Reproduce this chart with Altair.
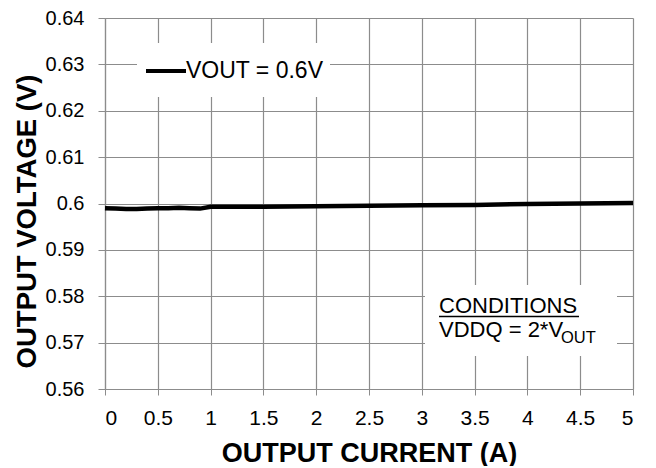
import altair as alt
import pandas as pd

# Data
current_a = [0, 0.1, 0.2, 0.3, 0.4, 0.5, 0.6, 0.7, 0.8, 0.9, 1.0, 1.25, 1.5, 2.0, 2.5, 3.0, 3.5, 4.0, 4.5, 5.0]
vout_v = [0.5990, 0.5989, 0.5988, 0.5988, 0.5989, 0.5990, 0.5990, 0.5991, 0.5990, 0.5989,
          0.5993, 0.5993, 0.5993, 0.5994, 0.5995, 0.5996, 0.5997, 0.5999, 0.6000, 0.6001]
x_ticks = [0, 0.5, 1, 1.5, 2, 2.5, 3, 3.5, 4, 4.5, 5]
y_ticks = [0.56, 0.57, 0.58, 0.59, 0.60, 0.61, 0.62, 0.63, 0.64]
legend_label = "VOUT = 0.6V"
cond_title = "CONDITIONS"
cond_line = "VDDQ = 2*V"
cond_sub = "OUT"

FONT = "Liberation Sans"
GRID = "#8c8c8c"
W, H = 528, 371

df = pd.DataFrame({"x": current_a, "v": vout_v})
one = pd.DataFrame({"a": [0]})

xenc = alt.X("x:Q", scale=alt.Scale(domain=[0, 5], nice=False),
             axis=alt.Axis(values=x_ticks, format=".1~f", title="OUTPUT CURRENT (A)",
                           grid=True, gridColor=GRID, gridWidth=1.2,
                           domainColor=GRID, domainWidth=1.2, tickColor=GRID, tickSize=6,
                           labelFont=FONT, labelFontSize=21, labelColor="black", labelPadding=12,
                           titleFont=FONT, titleFontSize=27, titleFontWeight="bold",
                           titleColor="black", titleBaseline="alphabetic", titleY=72))
yenc = alt.Y("v:Q", scale=alt.Scale(domain=[0.56, 0.64], nice=False, zero=False),
             axis=alt.Axis(values=y_ticks, format=".2~f", title="OUTPUT VOLTAGE (V)",
                           grid=True, gridColor=GRID, gridWidth=1.2,
                           domainColor=GRID, domainWidth=1.2, tickColor=GRID, tickSize=7,
                           labelFont=FONT, labelFontSize=20, labelColor="black", labelPadding=14,
                           titleFont=FONT, titleFontSize=27.5, titleFontWeight="bold",
                           titleColor="black", titleAngle=270, titleBaseline="alphabetic",
                           titleAlign="center", titleX=-70, titleY=203))

line = alt.Chart(df).mark_line(color="black", strokeWidth=4.5).encode(x=xenc, y=yenc)

leg_box = alt.Chart(one).mark_rect(fill="white").encode(
    x=alt.value(32), x2=alt.value(225), y=alt.value(25), y2=alt.value(79))
leg_line = alt.Chart(one).mark_rule(color="black", strokeWidth=4).encode(
    x=alt.value(41), x2=alt.value(81), y=alt.value(53))
leg_text = alt.Chart(one).mark_text(font=FONT, fontSize=23, align="left", baseline="alphabetic",
                                    color="black").encode(
    x=alt.value(81), y=alt.value(60), text=alt.value(legend_label))

cond_box = alt.Chart(one).mark_rect(fill="white").encode(
    x=alt.value(320), x2=alt.value(512), y=alt.value(267), y2=alt.value(338))
cond_t1 = alt.Chart(one).mark_text(font=FONT, fontSize=22, align="left", baseline="alphabetic",
                                   color="black").encode(
    x=alt.value(334), y=alt.value(295), text=alt.value(cond_title))
cond_ul = alt.Chart(one).mark_rule(color="black", strokeWidth=1.5).encode(
    x=alt.value(334), x2=alt.value(474), y=alt.value(298.5))
cond_t2 = alt.Chart(one).mark_text(font=FONT, fontSize=22, align="left", baseline="alphabetic",
                                   color="black").encode(
    x=alt.value(334), y=alt.value(319), text=alt.value(cond_line))
cond_t3 = alt.Chart(one).mark_text(font=FONT, fontSize=16.5, align="left", baseline="alphabetic",
                                   color="black").encode(
    x=alt.value(456), y=alt.value(325), text=alt.value(cond_sub))

chart = alt.layer(line, leg_box, leg_line, leg_text, cond_box, cond_t1, cond_ul, cond_t2, cond_t3).properties(
    width=W, height=H,
    autosize=alt.AutoSizeParams(type="none"),
    padding={"left": 97, "top": 10, "right": 15, "bottom": 77},
    background="white",
).configure_view(stroke=None)

chart.save("out.html", embed_options={"renderer": "svg", "actions": False})
